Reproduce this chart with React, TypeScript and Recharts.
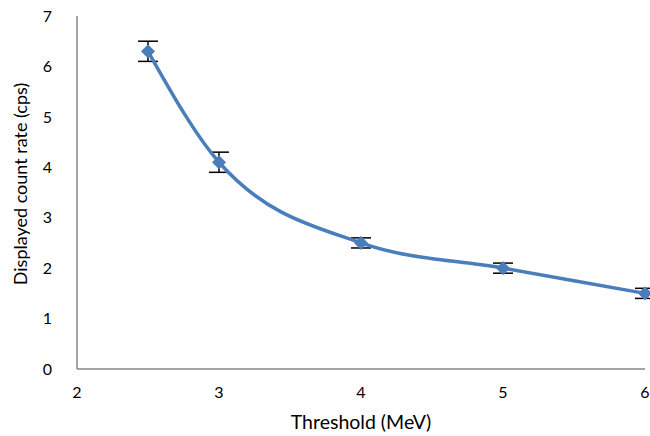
import React from 'react';
import { ComposedChart, Line, XAxis, YAxis, ErrorBar } from 'recharts';

const thresholds = [2.5, 3, 4, 5, 6];
const countRates = [6.3, 4.1, 2.5, 2.0, 1.5];
const errors = [0.2, 0.2, 0.1, 0.1, 0.1];
const xTicks = [2, 3, 4, 5, 6];
const yTicks = [0, 1, 2, 3, 4, 5, 6, 7];

const data = thresholds.map((t, i) => ({ t, rate: countRates[i], err: errors[i] }));

const FONT = 'Lato, "Open Sans", sans-serif';

const Diamond = (props: any) => {
  const { cx, cy, index } = props;
  const r = 6.5;
  return (
    <path
      key={`d-${index}`}
      d={`M${cx},${cy - r}L${cx + r},${cy}L${cx},${cy + r}L${cx - r},${cy}Z`}
      fill="#4A7EBB"
      stroke="#4A7EBB"
    />
  );
};

const YLabel = () => (
  <text
    transform="translate(20,184) rotate(-90)"
    textAnchor="middle"
    dominantBaseline="central"
    fontFamily={FONT}
    fontSize={18}
    fill="#000"
  >
    Displayed count rate (cps)
  </text>
);

export default function App() {
  return (
    <div style={{ position: 'absolute', left: 0, top: 0, background: '#fff' }}>
      <ComposedChart
        width={650}
        height={436}
        data={data}
        margin={{ top: 16, right: 5, bottom: 0, left: 0 }}
      >
        <XAxis
          dataKey="t"
          type="number"
          domain={[2, 6]}
          ticks={xTicks}
          tickLine={false}
          axisLine={{ stroke: '#868686', strokeWidth: 1.5 }}
          tick={{ fill: '#000', fontSize: 16, fontFamily: FONT }}
          tickMargin={12}
          height={67}
          label={{
            value: 'Threshold (MeV)',
            position: 'insideBottom',
            offset: 7,
            fill: '#000',
            fontSize: 19.5,
            fontFamily: FONT,
          }}
        />
        <YAxis
          type="number"
          domain={[0, 7]}
          ticks={yTicks}
          tickLine={false}
          axisLine={{ stroke: '#868686', strokeWidth: 1.5 }}
          tick={{ fill: '#000', fontSize: 16, fontFamily: FONT }}
          tickMargin={19}
          width={77}
          label={<YLabel />}
        />
        <Line
          dataKey="rate"
          type="monotone"
          stroke="#4A7EBB"
          strokeWidth={3.5}
          dot={<Diamond />}
          activeDot={false}
          isAnimationActive={false}
        >
          <ErrorBar dataKey="err" direction="y" width={10} stroke="#000" strokeWidth={1.5} />
        </Line>
      </ComposedChart>
    </div>
  );
}
